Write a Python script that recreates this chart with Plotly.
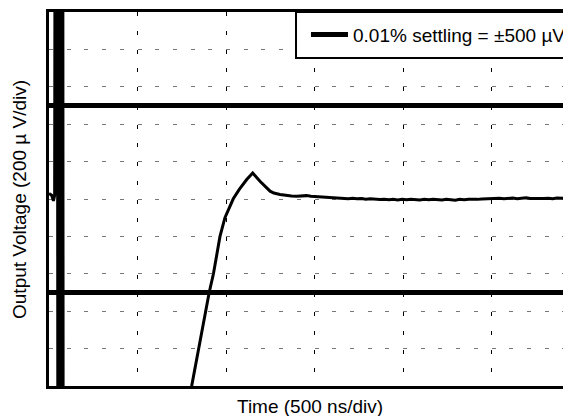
import plotly.graph_objects as go

# time in ns (500 ns/div), output voltage in uV (200 uV/div)
t_ns = [0, 15, 25, 32, 34, 48, 50, 57, 59, 65, 67, 71, 73, 78, 80,
        786, 806, 845, 885, 905, 929, 947, 966, 994, 1041, 1075, 1117, 1151,
        1192, 1249, 1270, 1305, 1340, 1370, 1400, 1430, 1455, 1480, 1500,
        1530, 1560, 1588, 1615, 1640, 1665, 1690, 1715, 1740, 1765, 1790,
        1815, 1840, 1870, 1895, 1920, 1945, 1970, 1995, 2020, 2045, 2070,
        2095, 2120, 2145, 2170, 2195, 2220, 2245, 2270, 2295, 2320, 2345,
        2370, 2395, 2420, 2445, 2470, 2495, 2520, 2545, 2570, 2595, 2620,
        2645, 2670, 2695, 2720, 2745, 2770, 2795, 2820, 2845, 2870, 2895,
        2920, 2949]
v_uv = [30, 20, -10, 20, 1500, 1500, -1500, -1500, 1500, 1500, -1500, -1500, 1500, 1500, -1500,
        -1100, -1000, -802, -598, -500, -400, -300, -200, -100, 1, 51, 104, 139,
        95, 42, 32, 24, 18, 16, 15, 17, 18, 15, 14,
        11, 9, 6, 8, 4, 6, 2, 4, 1, 3, -1, 1, -2, -3, -1, -4, -2, -5, -2,
        -4, -1, -3, -5, -2, -4, -1, -3, -5, -2, -3, -6, -2, -4, -1, -3,
        -2, 0, 1, 3, 2, 4, 1, 3, 5, 2, 4, 6, 3, 2, 5, 3, 4, 2, 5, 3, 4, 3]

# 0.01% settling band
band_t = [0, 2949, None, 0, 2949]
band_uv = [500, 500, None, -500, -500]

font = "Liberation Sans, Arial, sans-serif"

fig = go.Figure()

fig.add_trace(go.Scatter(
    x=band_t, y=band_uv,
    mode="lines",
    name="0.01% settling = ±500 µV",
    line=dict(color="black", width=5),
))

fig.add_trace(go.Scatter(
    x=t_ns, y=v_uv,
    mode="lines",
    showlegend=False,
    line=dict(color="black", width=3),
))

fig.update_xaxes(
    range=[0, 2949], dtick=500, tick0=0,
    showticklabels=False, ticks="",
    showgrid=True, gridcolor="black", gridwidth=1, griddash="4px,14.75px",
    showline=True, linecolor="black", linewidth=3, mirror=True,
    zeroline=False,
)
fig.update_yaxes(
    range=[-1000, 1000], dtick=200, tick0=-1000,
    showticklabels=False, ticks="",
    showgrid=True, gridcolor="#777777", gridwidth=1, griddash="4px,13.7px",
    showline=True, linecolor="black", linewidth=3, mirror=False,
    zeroline=False,
)

# page body adds an 8px offset, so the figure is 8px smaller than the window
fig.update_layout(
    width=563, height=408,
    margin=dict(l=41, r=0, t=4, b=29.5),
    plot_bgcolor="white", paper_bgcolor="white",
    font=dict(family=font, size=19, color="black"),
    legend=dict(
        x=0.4923, y=0.99, xanchor="left", yanchor="top",
        borderwidth=0, bgcolor="rgba(0,0,0,0)",
        itemwidth=37,
        font=dict(size=19),
    ),
    annotations=[
        dict(text="Time (500 ns/div)", xref="paper", yref="paper",
             x=0.5, y=0, xanchor="center", yanchor="top", yshift=-8,
             showarrow=False, font=dict(size=19)),
        dict(text="Output Voltage (200 µ V/div)", xref="paper", yref="paper",
             x=-0.0575, y=0.5, xanchor="center", yanchor="middle", textangle=-90,
             showarrow=False, font=dict(size=19)),
    ],
    shapes=[
        # legend frame, running off the right edge like the reference
        dict(type="rect", xref="paper", yref="paper", layer="above",
             x0=0.4732, x1=1.1, y0=0.8772, y1=1.0,
             line=dict(color="black", width=2), fillcolor="white"),
    ],
)

fig.write_html("out.html")
